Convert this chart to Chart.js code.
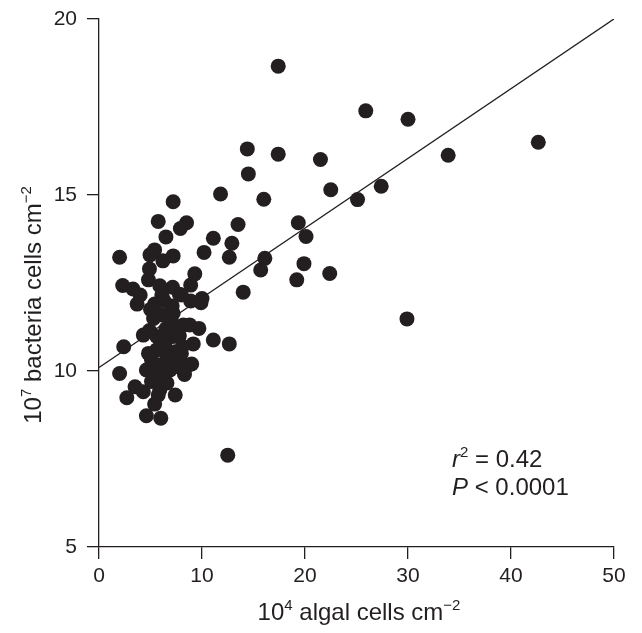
<!DOCTYPE html>
<html>
<head>
<meta charset="utf-8">
<script src="https://cdn.jsdelivr.net/npm/chart.js@4/dist/chart.umd.min.js"></script>
<style>
  html, body { margin: 0; padding: 0; background: #ffffff; }
  #wrap { width: 642px; height: 633px; position: relative; }
</style>
</head>
<body>
<div id="wrap"><canvas id="c" width="642" height="633"></canvas></div>
<script>
// Algal cell density (10^4 cells cm^-2)
const algalX = [
  17.4, 25.9, 30.0, 42.65, 14.4, 17.4, 21.5, 33.9, 14.5, 11.8,
  16.0, 22.5, 27.4, 25.1, 7.2, 5.75, 8.5, 7.9, 13.5, 19.35,
  6.5, 11.1, 20.1, 12.9, 10.2, 12.65, 16.1, 19.9, 2.0, 5.4,
  4.95, 6.2, 7.2, 9.3, 15.7, 22.4, 4.9, 8.9, 19.2, 14.0,
  4.8, 2.3, 5.9, 7.15, 3.3, 4.0, 6.1, 7.8, 8.0, 10.0,
  8.9, 9.9, 3.7, 5.4, 7.1, 29.9, 8.2, 8.8, 9.7, 11.1,
  12.65, 9.15, 12.5, 5.3, 6.1, 7.2, 4.3, 2.4, 5.6, 7.2,
  5.6, 7.4, 5.1, 6.6, 7.55, 5.9, 7.7, 8.7, 4.6, 6.9,
  2.0, 5.3, 6.2, 3.5, 4.3, 5.1, 5.9, 5.75, 7.4, 2.7,
  5.4, 4.6, 6.0, 6.5, 7.8, 6.4, 8.0, 6.9, 8.3, 4.8,
  9.0, 6.6, 5.0, 7.2, 6.3, 8.1, 4.9, 7.0
];
// Bacterial density (10^7 cells cm^-2)
const bacteriaY = [
  18.66, 17.39, 17.15, 16.5, 16.31, 16.16, 16.01, 16.13, 15.6, 15.03,
  14.88, 15.15, 15.25, 14.87, 14.81, 14.25, 14.21, 14.05, 14.16, 14.21,
  13.81, 13.77, 13.82, 13.63, 13.37, 13.23, 13.2, 13.05, 13.23, 13.44,
  13.3, 13.13, 13.27, 12.76, 12.87, 12.77, 12.9, 12.44, 12.59, 12.24,
  12.59, 12.43, 12.42, 12.38, 12.33, 12.16, 12.16, 12.18, 12.16, 12.06,
  11.99, 11.94, 11.9, 11.9, 11.85, 11.48, 11.31, 11.31, 11.21, 10.88,
  10.77, 10.77, 7.61, 11.49, 11.59, 11.64, 11.02, 10.69, 10.98, 10.98,
  10.6, 10.55, 10.31, 10.41, 10.36, 10.17, 10.12, 10.17, 10.03, 10.03,
  9.93, 9.98, 9.79, 9.55, 9.41, 9.7, 9.46, 9.32, 9.32, 9.24,
  9.06, 8.73, 8.66, 11.2, 11.0, 10.8, 10.5, 10.25, 9.9, 10.5,
  10.2, 9.66, 11.75, 11.3, 12.0, 10.7, 11.15, 11.45
];
// Regression line end points
const fitX = [0, 50];
const fitY = [10.1, 20];
// Axis ticks
const xTicks = [0, 10, 20, 30, 40, 50];
const yTicks = [5, 10, 15, 20];
// Texts
const xTitle = [{t: '10'}, {t: '4', sup: true}, {t: ' algal cells cm'}, {t: '\u22122', sup: true}];
const yTitle = [{t: '10'}, {t: '7', sup: true}, {t: ' bacteria cells cm'}, {t: '\u22122', sup: true}];
const statLine1 = [{t: 'r', italic: true}, {t: '2', sup: true}, {t: ' = 0.42'}];
const statLine2 = [{t: 'P', italic: true}, {t: ' < 0.0001'}];

const INK = '#231f20';
const FONT = '"Liberation Sans", Arial, Helvetica, sans-serif';

function segFont(seg, size) {
  const s = seg.sup ? Math.round(size * 0.64) : size;
  return (seg.italic ? 'italic ' : '') + s + 'px ' + FONT;
}
function richWidth(ctx, segs, size) {
  let w = 0;
  for (const seg of segs) { ctx.font = segFont(seg, size); w += ctx.measureText(seg.t).width; }
  return w;
}
function drawRich(ctx, segs, x, y, size, align) {
  const w = richWidth(ctx, segs, size);
  let cx = align === 'center' ? x - w / 2 : x;
  ctx.textBaseline = 'alphabetic';
  ctx.textAlign = 'left';
  for (const seg of segs) {
    ctx.font = segFont(seg, size);
    const dy = seg.sup ? -size * 0.40 : 0;
    ctx.fillText(seg.t, cx, y + dy);
    cx += ctx.measureText(seg.t).width;
  }
}

const textPlugin = {
  id: 'texts',
  afterDraw(chart) {
    const ctx = chart.ctx;
    ctx.save();
    ctx.fillStyle = INK;
    // x axis title
    drawRich(ctx, xTitle, 359, 620, 24, 'center');
    // y axis title (rotated)
    ctx.save();
    ctx.translate(41, 305);
    ctx.rotate(-Math.PI / 2);
    drawRich(ctx, yTitle, 0, 0, 24, 'center');
    ctx.restore();
    // stats
    drawRich(ctx, statLine1, 452, 467, 24, 'left');
    drawRich(ctx, statLine2, 452, 495, 24, 'left');
    ctx.restore();
  }
};

const points = algalX.map((x, i) => ({x: x, y: bacteriaY[i]}));
const fitPoints = fitX.map((x, i) => ({x: x, y: fitY[i]}));

new Chart(document.getElementById('c'), {
  type: 'scatter',
  data: {
    datasets: [
      {
        label: 'fit',
        data: fitPoints,
        showLine: true,
        borderColor: INK,
        borderWidth: 1.4,
        pointRadius: 0,
        fill: false,
        order: 2
      },
      {
        label: 'samples',
        data: points,
        backgroundColor: INK,
        borderColor: INK,
        borderWidth: 0,
        pointRadius: 7.5,
        order: 1
      }
    ]
  },
  options: {
    responsive: false,
    animation: false,
    events: [],
    layout: { padding: { top: 19, right: 28, left: 0, bottom: 0 } },
    plugins: { legend: { display: false }, tooltip: { enabled: false }, title: { display: false } },
    scales: {
      x: {
        type: 'linear',
        min: 0, max: 50,
        afterFit(scale) { scale.height = 86; scale.paddingLeft = 0; scale.paddingRight = 0; },
        afterBuildTicks(scale) { scale.ticks = xTicks.map(v => ({value: v})); },
        ticks: { color: INK, font: { family: FONT, size: 21 }, padding: 5, maxRotation: 0 },
        grid: { drawOnChartArea: false, drawTicks: true, tickLength: 12, color: INK, lineWidth: 1.3 },
        border: { display: true, color: INK, width: 1.3 }
      },
      y: {
        type: 'linear',
        min: 5, max: 20,
        afterFit(scale) { scale.width = 99; scale.paddingTop = 0; scale.paddingBottom = 0; },
        afterBuildTicks(scale) { scale.ticks = yTicks.map(v => ({value: v})); },
        ticks: { color: INK, font: { family: FONT, size: 21 }, padding: 10 },
        grid: { drawOnChartArea: false, drawTicks: true, tickLength: 12, color: INK, lineWidth: 1.3 },
        border: { display: true, color: INK, width: 1.3 }
      }
    }
  },
  plugins: [textPlugin]
});
</script>
</body>
</html>
